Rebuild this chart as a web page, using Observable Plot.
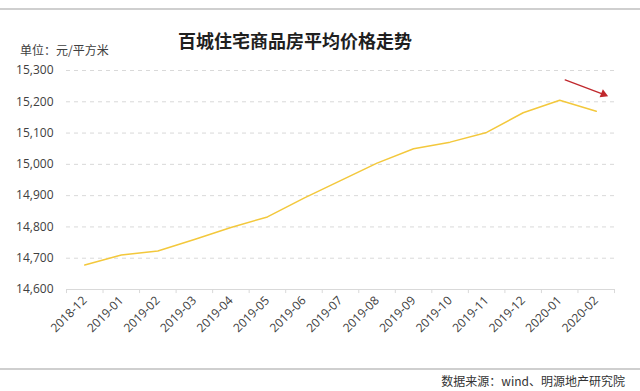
<!DOCTYPE html>
<html>
<head>
<meta charset="utf-8">
<script src="https://cdn.jsdelivr.net/npm/d3@7"></script>
<script src="https://cdn.jsdelivr.net/npm/@observablehq/plot@0.6"></script>
<style>
  html, body { margin: 0; padding: 0; background: #fff; }
  #wrap { position: relative; width: 640px; height: 391px; overflow: hidden;
          font-family: "Open Sans", "Noto Sans CJK SC", sans-serif; }
  #chart { position: absolute; left: 0; top: 0; }
  .rule { position: absolute; left: 0; width: 640px; height: 2px; background: #cfcfcf; }
  #title { position: absolute; left: 0; width: 590px; top: 29px; text-align: center;
           font-family: "Noto Sans CJK SC", sans-serif; font-weight: bold; font-size: 18px;
           line-height: 22px; color: #1f1f1f; }
  #unit { position: absolute; left: 20px; top: 42px; font-size: 12px; line-height: 16px;
          color: #404040; font-family: "Noto Sans CJK SC", sans-serif; }
  #source { position: absolute; right: 15px; top: 373px; font-size: 12px; line-height: 16px;
            color: #333; font-family: "Noto Sans CJK SC", sans-serif; }
</style>
</head>
<body>
<div id="wrap">
  <div class="rule" style="top:8px"></div>
  <div id="chart"></div>
  <div id="title">百城住宅商品房平均价格走势</div>
  <div id="unit">单位：元/平方米</div>
  <div class="rule" style="top:368px"></div>
  <div id="source">数据来源：wind、明源地产研究院</div>
</div>
<script>
const months = ["2018-12","2019-01","2019-02","2019-03","2019-04","2019-05","2019-06","2019-07","2019-08","2019-09","2019-10","2019-11","2019-12","2020-01","2020-02"];
const prices = [14678, 14710, 14723, 14760, 14798, 14832, 14892, 14948, 15004, 15050, 15071, 15102, 15165, 15205, 15170];
const yTicks = [14600, 14700, 14800, 14900, 15000, 15100, 15200, 15300];
// annotation arrow (index units on x, price units on y)
const arrowStart = {x: 13.15, y: 15270};
const arrowEnd = {x: 14.2, y: 15224};

const data = prices.map((v, i) => ({i, month: months[i], v}));
const boundaries = d3.range(months.length + 1).map(i => i - 0.5);
const fmt = d3.format(",");

const chart = Plot.plot({
  width: 640,
  height: 391,
  marginTop: 70,
  marginRight: 26,
  marginBottom: 102,
  marginLeft: 66,
  style: {fontFamily: '"Open Sans", "Noto Sans CJK SC", sans-serif', background: "transparent"},
  x: {type: "linear", domain: [-0.5, months.length - 0.5]},
  y: {domain: [14600, 15300]},
  marks: [
    Plot.gridY({ticks: yTicks.filter(t => t > 14600), stroke: "#d9d9d9", strokeOpacity: 1, strokeDasharray: "4,4"}),
    Plot.ruleY([14600], {stroke: "#d9d9d9", strokeWidth: 1}),
    Plot.ruleX(boundaries, {x: d => d, y1: 14600, y2: 14587, stroke: "#d9d9d9"}),
    Plot.axisY({ticks: yTicks, tickFormat: fmt, tickSize: 0, tickPadding: 13, fontSize: 12, color: "#404040", label: null}),
    Plot.axisX({ticks: d3.range(months.length), tickFormat: i => months[i], tickRotate: -45, tickSize: 0, tickPadding: 9, fontSize: 12, color: "#404040", label: null}),
    Plot.line(data, {x: "i", y: "v", stroke: "#f3c83c", strokeWidth: 1.5}),
    Plot.arrow([{a: arrowStart, b: arrowEnd}], {x1: d => d.a.x, y1: d => d.a.y, x2: d => d.b.x, y2: d => d.b.y, stroke: "#c0282d", strokeWidth: 1.3, headLength: 0}),
    Plot.dot([arrowEnd], {x: "x", y: "y", symbol: "triangle", r: 3.2, fill: "#c0282d", stroke: "none", rotate: 112})
  ]
});
document.getElementById("chart").appendChild(chart);
</script>
</body>
</html>
